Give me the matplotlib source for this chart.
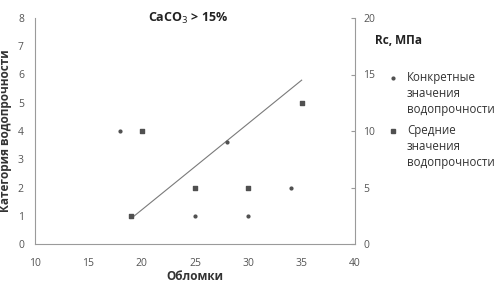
import matplotlib
matplotlib.use("Agg")
import matplotlib.pyplot as plt

# Data
conc_x = [18, 25, 28, 30, 34]
conc_y = [4, 1, 3.6, 1, 2]
mean_x = [19, 20, 25, 30, 35]
mean_y = [1, 4, 2, 2, 5]
line_x = [19, 35]
line_y = [0.9, 5.8]
x_ticks = [10, 15, 20, 25, 30, 35, 40]
y_ticks = [0, 1, 2, 3, 4, 5, 6, 7, 8]
y2_ticks = [0, 5, 10, 15, 20]

plt.rcParams['font.family'] = ['Open Sans', 'DejaVu Sans']

fig = plt.figure(figsize=(4.98, 2.83), dpi=100)
ax = fig.add_axes([35/498, 1-244/283, 320/498, 226/283])
ax2 = ax.twinx()

gray = '#9a9a9a'
mk = '#505050'
ax.plot(line_x, line_y, color='#7a7a7a', lw=0.8)
ax.scatter(conc_x, conc_y, marker='o', s=4, color=mk, zorder=3)
ax.scatter(mean_x, mean_y, marker='s', s=9, color=mk, zorder=3)

ax.set_xlim(10, 40)
ax.set_ylim(0, 8)
ax2.set_ylim(0, 20)
ax.set_xticks(x_ticks)
ax.set_yticks(y_ticks)
ax2.set_yticks(y2_ticks)

for a in (ax, ax2):
    a.spines['top'].set_visible(False)
    for s in a.spines.values():
        s.set_color(gray)
        s.set_linewidth(0.8)
ax.spines['right'].set_visible(False)
ax2.spines['left'].set_visible(False)
ax2.spines['bottom'].set_visible(False)

ax.tick_params(axis='x', length=0, labelsize=7.5, colors='#555555', pad=10)
ax.tick_params(axis='y', length=0, labelsize=7.5, colors='#555555', pad=8)
ax2.tick_params(axis='y', direction='in', length=3, color=gray, labelsize=7.5, labelcolor='#555555', pad=6)

ax.set_xlabel('Обломки', fontsize=8.5, fontweight='bold', color='#333333', labelpad=1)
ax.set_ylabel('Категория водопрочности', fontsize=8.5, fontweight='bold', color='#333333', labelpad=4)

fig.text(188/498, 1-18/283, 'CaCO$_3$ > 15%', fontsize=9, fontweight='bold', ha='center', va='center', color='#222222')
fig.text(375/498, 1-41/283, 'Rc, МПа', fontsize=8.5, fontweight='bold', ha='left', va='center', color='#222222')

# Legend
fig.text(407/498, 1-71/283, 'Конкретные\nзначения\nводопрочности', fontsize=8.3, ha='left', va='top',
         color='#333333', linespacing=1.3)
fig.text(407/498, 1-124/283, 'Средние\nзначения\nводопрочности', fontsize=8.3, ha='left', va='top',
         color='#333333', linespacing=1.3)
fig.lines.append(plt.Line2D([393/498], [1-78/283], marker='o', ms=2, color=mk, transform=fig.transFigure, lw=0))
fig.lines.append(plt.Line2D([393/498], [1-131/283], marker='s', ms=3, color=mk, transform=fig.transFigure, lw=0))

fig.savefig('out.png', dpi=100)
